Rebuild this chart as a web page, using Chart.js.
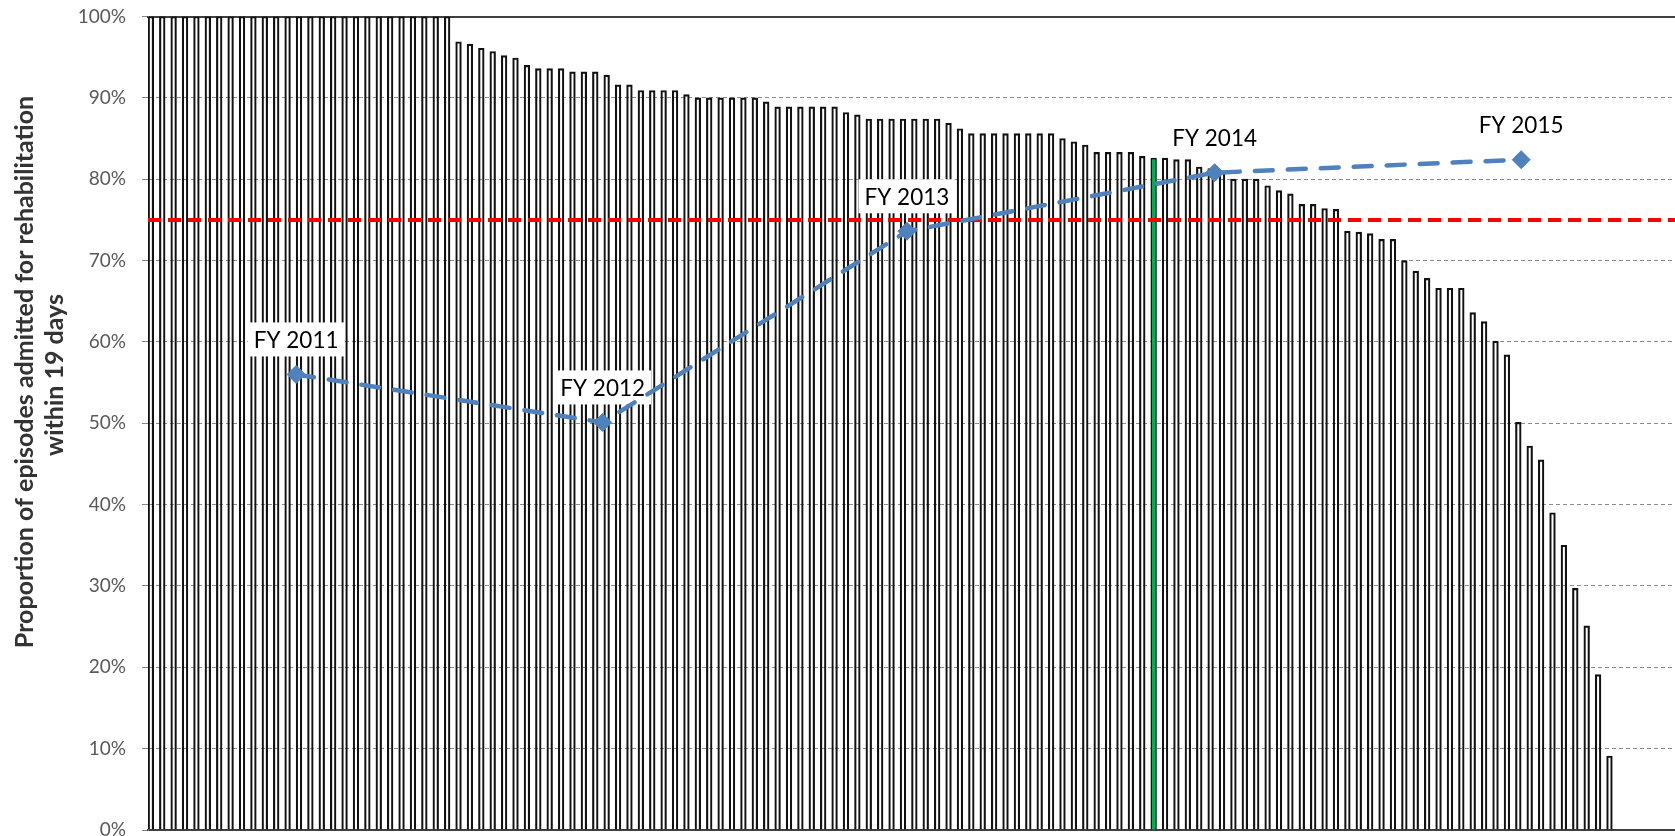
<!DOCTYPE html>
<html>
<head>
<meta charset="utf-8">
<script src="https://cdn.jsdelivr.net/npm/chart.js@4/dist/chart.umd.min.js"></script>
<style>
  html, body { margin: 0; background: #fff; overflow: hidden; }
  #wrap { width: 1675px; height: 836px; position: relative; }
  canvas { display: block; }
</style>
</head>
<body>
<div id="wrap"><canvas id="chart1"></canvas></div>
<script>
  // proportion admitted within 19 days, one bar per unit, sorted high to low
  const barValues = [
    100, 100, 100, 100, 100, 100, 100, 100, 100, 100,
    100, 100, 100, 100, 100, 100, 100, 100, 100, 100,
    100, 100, 100, 100, 100, 100, 100,
    96.9, 96.6, 96.1, 95.7, 95.2, 94.9, 94.0, 93.6, 93.6, 93.6,
    93.2, 93.2, 93.2, 92.8, 91.6, 91.6, 90.9, 90.9, 90.9, 90.9,
    90.4, 90.0, 90.0, 90.0, 90.0, 90.0, 90.0, 89.5,
    88.9, 88.9, 88.9, 88.9, 88.9, 88.9, 88.2, 87.9,
    87.4, 87.4, 87.4, 87.4, 87.4, 87.4, 87.4, 86.9, 86.2,
    85.6, 85.6, 85.6, 85.6, 85.6, 85.6, 85.6, 85.6,
    85.0, 84.6, 84.2, 83.3, 83.3, 83.3, 83.3, 82.8, 82.6, 82.6,
    82.4, 82.4, 81.5, 81.3, 80.9, 80.0, 80.0, 80.0, 79.2, 78.6,
    78.2, 76.9, 76.9, 76.4, 76.3, 73.6, 73.5, 73.3, 72.6, 72.6,
    70.0, 68.7, 67.8, 66.6, 66.6, 66.6, 63.6, 62.5, 60.1, 58.4,
    50.1, 47.2, 45.5, 39.0, 35.0, 29.7, 25.1, 19.1, 9.1
  ];
  const slotCount = 134;      // axis has a few empty slots after the last unit
  const highlightIndex = 88;  // the green bar

  const fyLabels = ['FY 2011', 'FY 2012', 'FY 2013', 'FY 2014', 'FY 2015'];
  const fyPos = [12.5, 39.4, 66.1, 93.1, 120.0];
  const fyValues = [56.0, 50.1, 73.6, 80.8, 82.4];

  const target = 75;
  const yTicks = [0, 10, 20, 30, 40, 50, 60, 70, 80, 90, 100];
  const yTitle = ['Proportion of episodes admitted for rehabilitation', 'within 19 days'];

  const labelsX = [];
  for (let i = 0; i < slotCount; i++) labelsX.push('U' + (i + 1));

  const blue = '#4F81BD';
  const tickGray = '#595959';

  Chart.defaults.font.family = 'Lato, "Open Sans", sans-serif';

  // white boxed year labels, drawn right after the bars so the lines stay on top
  const fyLabelPlugin = {
    id: 'fyLabels',
    afterDatasetDraw(chart, args) {
      if (args.index !== 0) return;
      const meta = chart.getDatasetMeta(2);
      const ctx = chart.ctx;
      ctx.save();
      ctx.font = '22.5px Lato, "Open Sans", sans-serif';
      ctx.textAlign = 'center';
      ctx.textBaseline = 'middle';
      meta.data.forEach((pt, i) => {
        const x = pt.x;
        const y = pt.y - 35;
        const w = ctx.measureText(fyLabels[i]).width + 12;
        ctx.fillStyle = '#fff';
        ctx.fillRect(x - w / 2, y - 17, w, 34);
        ctx.fillStyle = '#000';
        ctx.fillText(fyLabels[i], x, y + 1);
      });
      ctx.restore();
    }
  };

  const yTitlePlugin = {
    id: 'yTitle',
    afterDraw(chart) {
      const ctx = chart.ctx;
      const spots = [[33, 372], [63, 375]];
      yTitle.forEach((line, i) => {
        ctx.save();
        ctx.font = 'bold 25px Lato, "Open Sans", sans-serif';
        ctx.fillStyle = '#333';
        ctx.textAlign = 'center';
        ctx.textBaseline = 'alphabetic';
        ctx.translate(spots[i][0], spots[i][1]);
        ctx.rotate(-Math.PI / 2);
        ctx.fillText(line, 0, 0);
        ctx.restore();
      });
    }
  };

  const flatX = (scale) => {
    scale.height = 0;
    scale.paddingLeft = 0;
    scale.paddingRight = 0;
  };

  const ctx = document.getElementById('chart1').getContext('2d');

  new Chart(ctx, {
    type: 'bar',
    data: {
      labels: labelsX,
      datasets: [{
        label: 'Units',
        data: barValues,
        backgroundColor: barValues.map((v, i) => i === highlightIndex ? '#00B050' : 'rgba(255,255,255,0)'),
        borderColor: '#111',
        borderWidth: 1.5,
        barPercentage: 1,
        categoryPercentage: 1,
        order: 3
      }, {
        type: 'line',
        label: 'Target',
        xAxisID: 'x2',
        data: [{ x: -0.5, y: target }, { x: slotCount - 0.5, y: target }],
        borderColor: '#FF0000',
        borderWidth: 4,
        borderDash: [13, 7],
        pointRadius: 0,
        order: 2
      }, {
        type: 'line',
        label: 'Trend',
        xAxisID: 'x2',
        data: fyPos.map((p, i) => ({ x: p, y: fyValues[i] })),
        borderColor: blue,
        borderWidth: 4.5,
        borderDash: [18, 15],
        borderCapStyle: 'round',
        pointStyle: 'rectRot',
        pointRadius: 9,
        pointBackgroundColor: blue,
        pointBorderColor: blue,
        pointBorderWidth: 1,
        order: 1
      }]
    },
    options: {
      responsive: true,
      maintainAspectRatio: false,
      animation: false,
      layout: { autoPadding: false, padding: { top: 16.5, bottom: 6, left: 0, right: 0 } },
      plugins: {
        legend: { display: false },
        tooltip: { enabled: false }
      },
      scales: {
        x: {
          ticks: { display: false },
          grid: { display: false, drawTicks: false },
          border: { display: true, color: '#404040', width: 2 },
          afterFit: flatX
        },
        x2: {
          type: 'linear',
          position: 'top',
          offset: false,
          bounds: 'data',
          min: -0.5,
          max: slotCount - 0.5,
          ticks: { display: false },
          grid: { display: false, drawTicks: false, offset: false },
          border: { display: true, color: '#404040', width: 2 },
          afterFit: flatX
        },
        y: {
          min: 0,
          max: 100,
          afterBuildTicks: (scale) => { scale.ticks = yTicks.map(v => ({ value: v })); },
          afterFit: (scale) => {
            scale.width = 148;
            scale.paddingTop = 0;
            scale.paddingBottom = 0;
          },
          ticks: {
            color: tickGray,
            font: { size: 19, lineHeight: 0.6 },
            padding: 16,
            callback: (v) => v + '%'
          },
          grid: {
            color: '#8c8c8c',
            lineWidth: 1,
            tickLength: 6,
            tickColor: '#868686'
          },
          border: { display: true, color: '#868686', width: 1, dash: [4, 3] }
        }
      }
    },
    plugins: [fyLabelPlugin, yTitlePlugin]
  });
</script>
</body>
</html>
